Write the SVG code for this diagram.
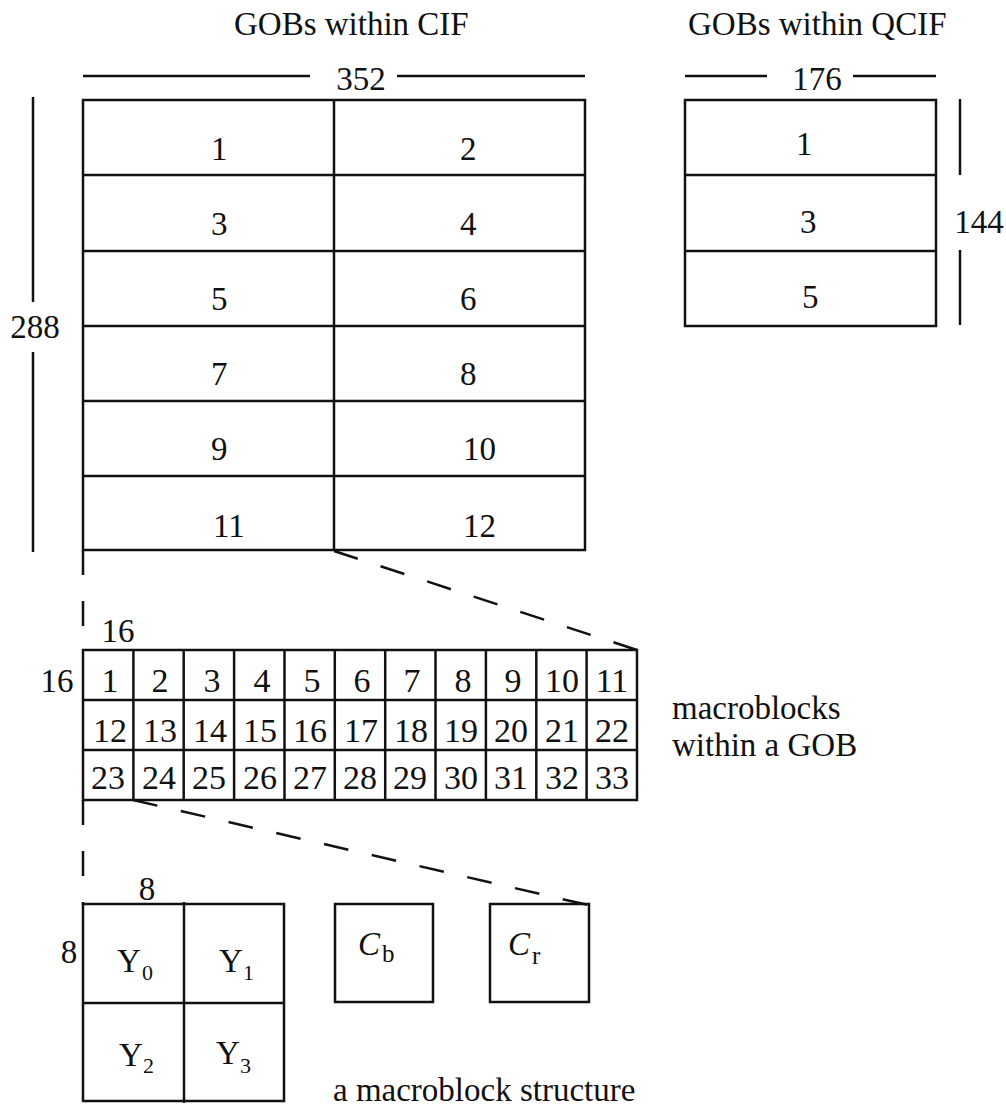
<svg xmlns="http://www.w3.org/2000/svg" width="1006" height="1111" viewBox="0 0 1006 1111">
<style>
text{font-family:"Liberation Serif","Times New Roman",serif;font-size:33px;fill:#111}
.c{text-anchor:middle}
.g{font-size:34px;text-anchor:middle}
.b{fill:none;stroke:#111;stroke-width:2.5}
.l{stroke:#111;stroke-width:2.5;fill:none}
.d{stroke:#111;stroke-width:2.5;fill:none;stroke-dasharray:25 24}
.v{stroke:#111;stroke-width:2.5;fill:none;stroke-dasharray:25 26}
.sub{font-size:22px}
.csub{font-size:25px}
.it{font-style:italic}
</style>
<rect width="1006" height="1111" fill="#fff"/>
<g id="cif">
<text x="234" y="35">GOBs within CIF</text>
<line class="l" x1="83" y1="76" x2="310" y2="76"/>
<line class="l" x1="397" y1="76" x2="585" y2="76"/>
<text class="c" x="361" y="90">352</text>
<line class="l" x1="33" y1="97" x2="33" y2="302"/>
<line class="l" x1="33" y1="352" x2="33" y2="552"/>
<text class="c" x="35" y="338">288</text>
<rect class="b" x="83" y="100" width="502" height="450"/>
<line class="l" x1="334" y1="100" x2="334" y2="550"/>
<line class="l" x1="83" y1="175" x2="585" y2="175"/>
<line class="l" x1="83" y1="251" x2="585" y2="251"/>
<line class="l" x1="83" y1="326" x2="585" y2="326"/>
<line class="l" x1="83" y1="401" x2="585" y2="401"/>
<line class="l" x1="83" y1="476" x2="585" y2="476"/>
<text x="211" y="160">1</text><text x="460" y="160">2</text>
<text x="211" y="235">3</text><text x="460" y="235">4</text>
<text x="211" y="310">5</text><text x="460" y="310">6</text>
<text x="211" y="385">7</text><text x="460" y="385">8</text>
<text x="211" y="460">9</text><text x="463" y="460">10</text>
<text x="213" y="537">11</text><text x="463" y="537">12</text>
</g>
<g id="qcif">
<text x="688" y="35">GOBs within QCIF</text>
<line class="l" x1="685" y1="76" x2="767" y2="76"/>
<line class="l" x1="853" y1="76" x2="936" y2="76"/>
<text class="c" x="817" y="90">176</text>
<rect class="b" x="685" y="100" width="251" height="226"/>
<line class="l" x1="685" y1="175" x2="936" y2="175"/>
<line class="l" x1="685" y1="251" x2="936" y2="251"/>
<text x="796" y="155">1</text>
<text x="800" y="233">3</text>
<text x="802" y="308">5</text>
<line class="l" x1="960" y1="99" x2="960" y2="175"/>
<line class="l" x1="960" y1="250" x2="960" y2="325"/>
<text class="c" x="979" y="233">144</text>
</g>
<g id="connectors">
<line class="d" x1="334" y1="551" x2="637" y2="650"/>
<line class="v" x1="83" y1="550" x2="83" y2="650"/>
<line class="d" x1="133" y1="800" x2="588" y2="905"/>
<line class="v" x1="83" y1="800" x2="83" y2="905"/>
</g>
<g id="gob">
<text class="c" x="118" y="642">16</text>
<text class="c" x="57" y="692">16</text>
<rect class="b" x="83" y="650" width="554" height="150"/>
<line class="l" x1="83" y1="700" x2="637" y2="700"/>
<line class="l" x1="83" y1="750" x2="637" y2="750"/>
<line class="l" x1="133.4" y1="650" x2="133.4" y2="800"/>
<line class="l" x1="183.7" y1="650" x2="183.7" y2="800"/>
<line class="l" x1="234.1" y1="650" x2="234.1" y2="800"/>
<line class="l" x1="284.5" y1="650" x2="284.5" y2="800"/>
<line class="l" x1="334.8" y1="650" x2="334.8" y2="800"/>
<line class="l" x1="385.2" y1="650" x2="385.2" y2="800"/>
<line class="l" x1="435.5" y1="650" x2="435.5" y2="800"/>
<line class="l" x1="485.9" y1="650" x2="485.9" y2="800"/>
<line class="l" x1="536.3" y1="650" x2="536.3" y2="800"/>
<line class="l" x1="586.6" y1="650" x2="586.6" y2="800"/>
<text class="g" x="110" y="692">1</text><text class="g" x="160" y="692">2</text><text class="g" x="212" y="692">3</text><text class="g" x="262" y="692">4</text><text class="g" x="312" y="692">5</text><text class="g" x="362" y="692">6</text><text class="g" x="412" y="692">7</text><text class="g" x="463" y="692">8</text><text class="g" x="513" y="692">9</text><text class="g" x="562" y="692">10</text><text class="g" x="612" y="692">11</text>
<text class="g" x="110" y="742">12</text><text class="g" x="160" y="742">13</text><text class="g" x="210" y="742">14</text><text class="g" x="260" y="742">15</text><text class="g" x="310" y="742">16</text><text class="g" x="361" y="742">17</text><text class="g" x="411" y="742">18</text><text class="g" x="461" y="742">19</text><text class="g" x="511" y="742">20</text><text class="g" x="562" y="742">21</text><text class="g" x="612" y="742">22</text>
<text class="g" x="108" y="789">23</text><text class="g" x="159" y="789">24</text><text class="g" x="209" y="789">25</text><text class="g" x="260" y="789">26</text><text class="g" x="310" y="789">27</text><text class="g" x="360" y="789">28</text><text class="g" x="410" y="789">29</text><text class="g" x="461" y="789">30</text><text class="g" x="511" y="789">31</text><text class="g" x="562" y="789">32</text><text class="g" x="612" y="789">33</text>
<text x="672" y="719">macroblocks</text>
<text x="672" y="756">within a GOB</text>
</g>
<g id="macroblock">
<text class="c" x="147" y="900">8</text>
<text class="c" x="69" y="963">8</text>
<rect class="b" x="83" y="904" width="201" height="197"/>
<line class="l" x1="184" y1="902" x2="184" y2="1103"/>
<line class="l" x1="83" y1="1003" x2="284" y2="1003"/>
<text x="117" y="972">Y</text><text class="sub" x="142" y="980">0</text>
<text x="219" y="972">Y</text><text class="sub" x="243" y="980">1</text>
<text x="119" y="1066">Y</text><text class="sub" x="143" y="1073">2</text>
<text x="216" y="1064">Y</text><text class="sub" x="240" y="1073">3</text>
</g>
<g id="cb">
<rect class="b" x="335" y="904" width="98" height="98"/>
<text class="it" x="358" y="955">C</text><text class="csub" x="382" y="962">b</text>
</g>
<g id="cr">
<rect class="b" x="490" y="904" width="99" height="98"/>
<text class="it" x="508" y="955">C</text><text class="csub" x="532" y="964">r</text>
</g>
<text x="333" y="1101" font-size="34">a macroblock structure</text>
</svg>
